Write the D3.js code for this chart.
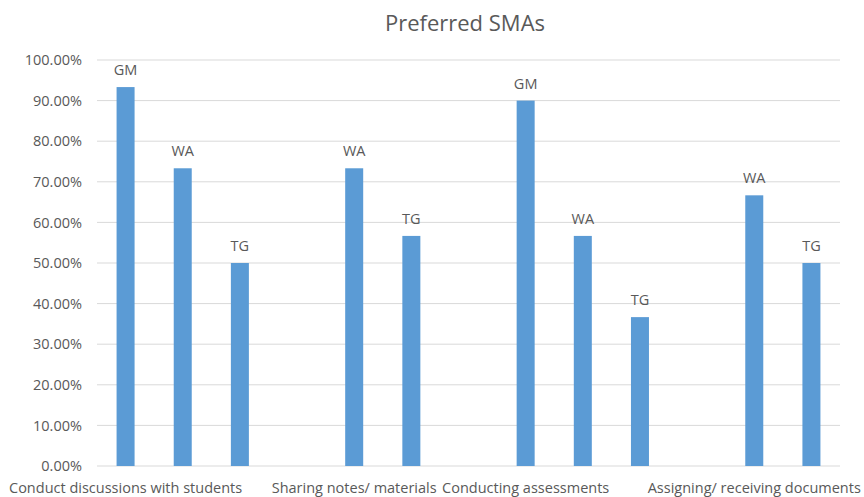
<!DOCTYPE html>
<html>
<head>
<meta charset="utf-8">
<script src="https://cdn.jsdelivr.net/npm/d3@7"></script>
<style>
  body { margin: 0; background: #fff; }
  text { font-family: "Open Sans", "Noto Sans", sans-serif; fill: #595959; }
</style>
</head>
<body>
<div id="chart"></div>
<script>
// one slot per bar position; empty slots keep the gaps between groups
const slots = ["s0", "s1", "s2", "s3", "s4", "s5", "s6", "s7", "s8", "s9", "s10", "s11", "s12"];
const categoryLabels = ["Conduct discussions with students", "", "", "", "Sharing notes/ materials", "", "",
  "Conducting assessments", "", "", "", "Assigning/ receiving documents", ""];
const barLabels = ["GM", "WA", "TG", "", "WA", "TG", "", "GM", "WA", "TG", "", "WA", "TG"];
const values = [0.9333, 0.7333, 0.5, null, 0.7333, 0.5667, null, 0.9, 0.5667, 0.3667, null, 0.6667, 0.5];
const yTicks = [0, 0.1, 0.2, 0.3, 0.4, 0.5, 0.6, 0.7, 0.8, 0.9, 1.0];

const svgWidth = 864, svgHeight = 497;
const margin = { top: 60, right: 24, bottom: 31, left: 97 },
  width = svgWidth - margin.left - margin.right,
  height = svgHeight - margin.top - margin.bottom;

const svg = d3.select("#chart").append("svg")
  .attr("width", svgWidth)
  .attr("height", svgHeight);

svg.append("text")
  .attr("x", 465)
  .attr("y", 31)
  .attr("text-anchor", "middle")
  .style("font-size", "22px")
  .text("Preferred SMAs");

const g = svg.append("g")
  .attr("transform", "translate(" + margin.left + "," + margin.top + ")");

const x = d3.scaleBand()
  .domain(slots)
  .range([0, width])
  .paddingInner(0.685)
  .paddingOuter(0.3425);

const y = d3.scaleLinear()
  .domain([0, 1])
  .range([height, 0]);

// gridlines
g.append("g")
  .selectAll("line")
  .data(yTicks)
  .join("line")
  .attr("x1", 0)
  .attr("x2", width)
  .attr("y1", d => y(d))
  .attr("y2", d => y(d))
  .attr("stroke", "#d9d9d9")
  .attr("stroke-width", 1);

// y axis labels
const yAxis = g.append("g")
  .call(d3.axisLeft(y).tickValues(yTicks).tickFormat(d3.format(".2%")).tickSize(0).tickPadding(15));
yAxis.select(".domain").remove();
yAxis.selectAll("text").style("font-size", "14.5px").attr("fill", "#595959");

const data = slots.map((s, i) => ({ slot: s, value: values[i], label: barLabels[i], cat: categoryLabels[i] }));
const bars = data.filter(d => d.value != null);

g.selectAll("rect.bar")
  .data(bars)
  .join("rect")
  .attr("class", "bar")
  .attr("x", d => x(d.slot))
  .attr("width", x.bandwidth())
  .attr("y", d => y(d.value))
  .attr("height", d => y(0) - y(d.value))
  .attr("fill", "#5b9bd5");

g.selectAll("text.lbl")
  .data(bars)
  .join("text")
  .attr("class", "lbl")
  .attr("x", d => x(d.slot) + x.bandwidth() / 2)
  .attr("y", d => y(d.value) - 12)
  .attr("text-anchor", "middle")
  .style("font-size", "14.5px")
  .text(d => d.label);

// x category labels
g.selectAll("text.cat")
  .data(data.filter(d => d.cat))
  .join("text")
  .attr("class", "cat")
  .attr("x", d => x(d.slot) + x.bandwidth() / 2)
  .attr("y", height + 27)
  .attr("text-anchor", "middle")
  .style("font-size", "14.5px")
  .text(d => d.cat);
</script>
</body>
</html>
